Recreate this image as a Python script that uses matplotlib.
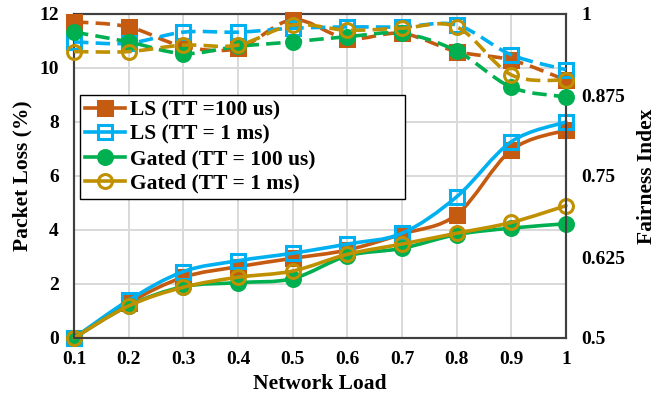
import numpy as np
import matplotlib
matplotlib.use("Agg")
import matplotlib.pyplot as plt
from matplotlib.path import Path
from matplotlib.patches import PathPatch
from matplotlib.lines import Line2D

plt.rcParams['font.family'] = ['Liberation Serif', 'DejaVu Serif']
plt.rcParams['font.weight'] = 'bold'

# data
load = [0.1, 0.2, 0.3, 0.4, 0.5, 0.6, 0.7, 0.8, 0.9, 1.0]
labels = ['LS (TT =100 us)', 'LS (TT = 1 ms)', 'Gated (TT = 100 us)', 'Gated (TT = 1 ms)']

# packet loss (%) - solid lines, left axis
loss_ls_100us = [0.0, 1.3, 2.25, 2.64, 2.95, 3.26, 3.85, 4.57, 6.96, 7.7]
loss_ls_1ms = [0.0, 1.4, 2.46, 2.86, 3.14, 3.48, 3.88, 5.23, 7.27, 8.0]
loss_gated_100us = [0.0, 1.2, 1.9, 2.05, 2.2, 3.04, 3.32, 3.83, 4.07, 4.23]
loss_gated_1ms = [0.0, 1.19, 1.88, 2.25, 2.48, 3.1, 3.48, 3.88, 4.28, 4.9]

# fairness index - dashed lines, right axis
fair_ls_100us = [0.988, 0.980, 0.950, 0.947, 0.991, 0.962, 0.970, 0.942, 0.929, 0.898]
fair_ls_1ms = [0.957, 0.955, 0.972, 0.972, 0.978, 0.980, 0.980, 0.983, 0.937, 0.914]
fair_gated_100us = [0.972, 0.957, 0.939, 0.950, 0.957, 0.965, 0.970, 0.943, 0.887, 0.872]
fair_gated_1ms = [0.942, 0.942, 0.952, 0.952, 0.983, 0.975, 0.978, 0.980, 0.906, 0.898]

colors = ['#C55A11', '#00B0F0', '#00B050', '#BF9000']
markers = ['s', 's', 'o', 'o']
filled = [True, False, True, False]


def smooth_path(x, y):
    # Excel-like smoothed line as cubic bezier through the points
    pts = np.column_stack([x, y]).astype(float)
    n = len(pts)
    verts = [pts[0]]
    codes = [Path.MOVETO]
    for i in range(n - 1):
        p0 = pts[i - 1] if i > 0 else pts[i]
        p1 = pts[i]
        p2 = pts[i + 1]
        p3 = pts[i + 2] if i + 2 < n else pts[i + 1]
        c1 = p1 + (p2 - p0) / 6.0
        c2 = p2 - (p3 - p1) / 6.0
        verts += [c1, c2, p2]
        codes += [Path.CURVE4] * 3
    return Path(verts, codes)


fig = plt.figure(figsize=(6.67, 3.98), dpi=100)
ax = fig.add_axes([74 / 667, 1 - 338 / 398, 492 / 667, 324 / 398])
ax2 = ax.twinx()

loss = [loss_ls_100us, loss_ls_1ms, loss_gated_100us, loss_gated_1ms]
fair = [fair_ls_100us, fair_ls_1ms, fair_gated_100us, fair_gated_1ms]

for i in range(4):
    c = colors[i]
    fc = c if filled[i] else 'none'
    # solid
    ax.add_patch(PathPatch(smooth_path(load, loss[i]), facecolor='none', edgecolor=c,
                           lw=2.6, zorder=3 + i, clip_on=False, capstyle='round'))
    ax.plot(load, loss[i], linestyle='none', marker=markers[i], ms=10, mfc=fc, mec=c,
            mew=2.2, zorder=3 + i, clip_on=False)
    # dashed
    pp = PathPatch(smooth_path(load, fair[i]), facecolor='none', edgecolor=c,
                   lw=2.6, zorder=3 + i, clip_on=False)
    pp.set_linestyle((0, (4.0, 2.0)))
    ax2.add_patch(pp)
    ax2.plot(load, fair[i], linestyle='none', marker=markers[i], ms=10, mfc=fc, mec=c,
             mew=2.2, zorder=3 + i, clip_on=False)

ax.set_xlim(0.1, 1.0)
ax.set_ylim(0, 12)
ax2.set_ylim(0.5, 1.0)
ax.set_xticks(load)
ax.set_xticklabels(['0.1', '0.2', '0.3', '0.4', '0.5', '0.6', '0.7', '0.8', '0.9', '1'])
ax.set_yticks([0, 2, 4, 6, 8, 10, 12])
ax2.set_yticks([0.5, 0.625, 0.75, 0.875, 1.0])
ax2.set_yticklabels(['0.5', '0.625', '0.75', '0.875', '1'])

ax.grid(True, color='#d9d9d9', lw=1.4)
ax.set_axisbelow(True)
for a in (ax, ax2):
    a.tick_params(length=0, labelsize=14, pad=11)
    for s in a.spines.values():
        s.set_color('#404040')
        s.set_linewidth(1.5)
ax.tick_params(axis='x', pad=9)

ax.set_xlabel('Network Load', fontsize=15.5, fontweight='bold')
ax.set_ylabel('Packet Loss (%)', fontsize=15.5, fontweight='bold')
ax2.set_ylabel('Fairness Index', fontsize=15.5, fontweight='bold')
ax.xaxis.set_label_coords(0.5, -0.11)
ax.yaxis.set_label_coords(-0.085, 0.5)
ax2.yaxis.set_label_coords(1.145, 0.5)

handles = [Line2D([], [], color=colors[i], lw=2.6, marker=markers[i], ms=10,
                  mfc=colors[i] if filled[i] else 'none', mec=colors[i], mew=2.2)
           for i in range(4)]
leg = ax2.legend(handles, labels, loc='upper left',
                 bbox_to_anchor=(6 / 492, 0.0, 325 / 492, (338 - 95) / 324),
                 mode='expand', borderaxespad=0, fancybox=False, edgecolor='black',
                 framealpha=1, handlelength=1.85, handletextpad=0.2,
                 labelspacing=0.2, borderpad=0.25,
                 prop={'weight': 'bold', 'size': 15.5})
leg.get_frame().set_linewidth(1.0)
leg.set_zorder(20)

fig.savefig('out.png', dpi=100)
